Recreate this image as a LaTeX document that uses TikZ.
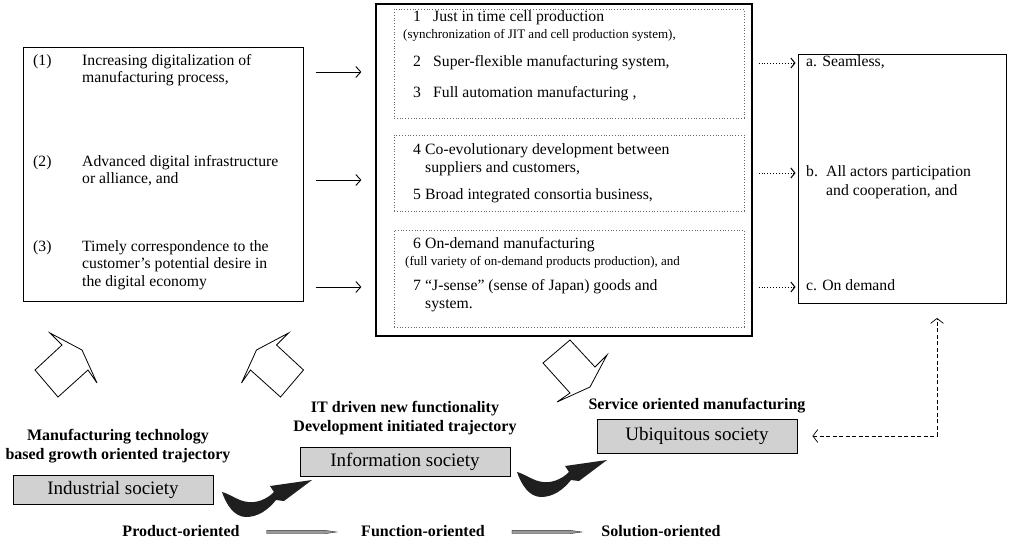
\documentclass[tikz,border=0pt]{standalone}
\usepackage{fontspec}
\setmainfont{Liberation Serif}
\usetikzlibrary{arrows.meta}
\begin{document}
\begin{tikzpicture}[x=1pt,y=-1pt,
  box/.style={draw, line width=1pt, inner sep=0pt},
  inbox/.style={draw=black!60, dotted, line width=.8pt, inner sep=0pt},
  txt/.style={anchor=west, inner sep=0pt, font=\fontsize{15.7}{18}\selectfont, text height=10pt, text depth=3pt},
  smalltxt/.style={anchor=west, inner sep=0pt, font=\fontsize{13}{15}\selectfont, text height=8.5pt, text depth=2.5pt},
  lab/.style={inner sep=0pt, font=\bfseries\fontsize{16}{18}\selectfont, text height=11pt, text depth=3pt},
  soc/.style={draw, fill=black!18, line width=.8pt, inner sep=0pt, font=\fontsize{19}{22}\selectfont},
  solarr/.style={line width=.9pt, -{Straight Barb[length=5pt,width=11pt,line width=.9pt]}},
  dotarr/.style={dotted, line width=.9pt, -{Straight Barb[length=4pt,width=10pt,line width=1pt]}},
  dasharr/.style={dash pattern=on 4pt off 2.5pt, line width=.7pt, {Straight Barb[length=5pt,width=13pt]}-{Straight Barb[length=5pt,width=13pt]}},
  hollow/.style={draw, fill=white, line width=.8pt, line join=miter},
  swoosh/.pic={\fill[black!88] (0,12) .. controls (4,24) and (12,37) .. (24,37) .. controls (36,37) and (46,30) .. (54,20) -- (62,21) -- (90,0) -- (48,6) -- (52,12) .. controls (44,20) and (34,23) .. (26,22) .. controls (16,21) and (8,14) .. cycle;},
  thinarr/.pic={\filldraw[fill=black!40, draw=black!80, line width=.4pt] (0,-1.7) -- (58,-1.7) -- (70,0) -- (58,1.7) -- (0,1.7) -- cycle;}
]
\useasboundingbox (0,0) rectangle (1011,543);

% main boxes
\node[box, minimum width=280pt, minimum height=253pt] (lbox) at (163,174.5) {};
\node[box, line width=1.2pt, minimum width=376pt, minimum height=332pt] (mbox) at (564,170) {};
\node[inbox, minimum width=350pt, minimum height=109pt] (ib1) at (569,63.5) {};
\node[inbox, minimum width=350pt, minimum height=76pt] (ib2) at (569,173) {};
\node[inbox, minimum width=350pt, minimum height=97pt] (ib3) at (569,278.5) {};
\node[box, minimum width=208pt, minimum height=248pt] (rbox) at (902,179) {};

% left box text
\node[txt] (n1) at (33,62) {(1)};
\node[txt] (t1a) at (82,62) {Increasing digitalization of};
\node[txt] (t1b) at (82,79) {manufacturing process,};
\node[txt] (n2) at (33,163) {(2)};
\node[txt] (t2a) at (82,163) {Advanced digital infrastructure};
\node[txt] (t2b) at (82,180) {or alliance, and};
\node[txt] (n3) at (33,248) {(3)};
\node[txt] (t3a) at (82,248) {Timely correspondence to the};
\node[txt] (t3b) at (82,265) {customer's potential desire in};
\node[txt] (t3c) at (82,283) {the digital economy};

% middle box text
\node[txt] (m1n) at (413,18) {1};
\node[txt] (m1t) at (433,18) {Just in time cell production};
\node[smalltxt] (m1s) at (403,36) {(synchronization of JIT and cell production system),};
\node[txt] (m2n) at (413,63) {2};
\node[txt] (m2t) at (433,63) {Super-flexible manufacturing system,};
\node[txt] (m3n) at (413,94) {3};
\node[txt] (m3t) at (433,94) {Full automation manufacturing ,};
\node[txt] (m4n) at (413,151) {4};
\node[txt] (m4t) at (425,151) {Co-evolutionary development between};
\node[txt] (m4b) at (425,169) {suppliers and customers,};
\node[txt] (m5n) at (413,196) {5};
\node[txt] (m5t) at (425,196) {Broad integrated consortia business,};
\node[txt] (m6n) at (413,245) {6};
\node[txt] (m6t) at (425,245) {On-demand manufacturing};
\node[smalltxt] (m6s) at (405,262) {(full variety of on-demand products production), and};
\node[txt] (m7n) at (413,287) {7};
\node[txt] (m7t) at (425,287) {``J-sense'' (sense of Japan) goods and};
\node[txt] (m7b) at (425,305) {system.};

% right box text
\node[txt] (ra) at (806,63) {a. Seamless,};
\node[txt] (rb) at (806,173) {b.};
\node[txt] (rb1) at (826,173) {All actors participation};
\node[txt] (rb2) at (826,192) {and cooperation, and};
\node[txt] (rc) at (806,287) {c. On demand};

% arrows left -> middle
\coordinate (y1) at (0,72);
\coordinate (y2) at (0,180);
\coordinate (y3) at (0,287);
\draw[solarr, shorten <=12pt, shorten >=14pt] (lbox.east |- y1) -- (mbox.west |- y1);
\draw[solarr, shorten <=12pt, shorten >=14pt] (lbox.east |- y2) -- (mbox.west |- y2);
\draw[solarr, shorten <=12pt, shorten >=14pt] (lbox.east |- y3) -- (mbox.west |- y3);

% dotted arrows middle -> right
\coordinate (z1) at (0,63);
\coordinate (z2) at (0,173);
\coordinate (z3) at (0,287);
\draw[dotarr, shorten <=6pt, shorten >=2pt] (mbox.east |- z1) -- (rbox.west |- z1);
\draw[dotarr, shorten <=6pt, shorten >=2pt] (mbox.east |- z2) -- (rbox.west |- z2);
\draw[dotarr, shorten <=6pt, shorten >=2pt] (mbox.east |- z3) -- (rbox.west |- z3);

% hollow block arrows
\draw[hollow] (50,333) -- (82,350) -- (97,383) -- (88,370) -- (58,397) -- (35,370) -- (62,345) -- cycle;
\draw[hollow] (288.5,333) -- (256.5,350) -- (241.5,383) -- (250.5,370) -- (280.5,397) -- (303.5,370) -- (276.5,345) -- cycle;
\draw[hollow] (607,355) -- (590,387) -- (557,402) -- (570,393) -- (543,363) -- (570,340) -- (595,367) -- cycle;

% society boxes and labels
\node[lab] (l1a) at (118,436) {Manufacturing technology};
\node[lab] (l1b) at (118,455) {based growth oriented trajectory};
\node[soc, minimum width=200pt, minimum height=29pt] (ind) at (113,490) {Industrial society};
\node[lab] (l2a) at (405,408) {IT driven new functionality};
\node[lab] (l2b) at (405,427) {Development initiated trajectory};
\node[soc, minimum width=210pt, minimum height=29pt] (inf) at (405,462) {Information society};
\node[lab] (l3) at (697,405) {Service oriented manufacturing};
\node[soc, minimum width=200pt, minimum height=34pt] (ubi) at (697,436) {Ubiquitous society};

% swoosh arrows
\pic at (222,480) {swoosh};
\pic at (517,460) {swoosh};

% dashed feedback arrow
\coordinate (dv) at (937,318);
\draw[dasharr] ([xshift=15pt]ubi.east) -| (dv);

% bottom orientation row
\node[lab] (p1) at (181,532) {Product-oriented};
\node[lab] (p2) at (423,532) {Function-oriented};
\node[lab] (p3) at (661,532) {Solution-oriented};
\pic at ([xshift=27pt]p1.east) {thinarr};
\pic at ([xshift=27pt]p2.east) {thinarr};
\end{tikzpicture}
\end{document}
